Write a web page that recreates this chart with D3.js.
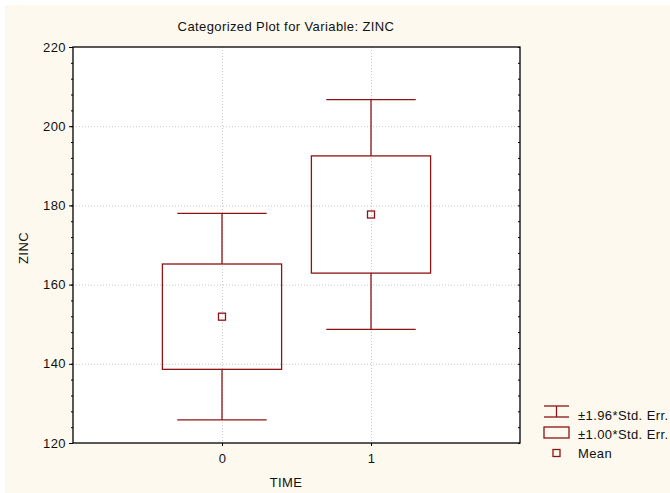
<!DOCTYPE html>
<html>
<head>
<meta charset="utf-8">
<script src="https://cdn.jsdelivr.net/npm/d3@7"></script>
<style>
  html, body { margin: 0; padding: 0; background: #ffffff; }
  svg { display: block; font-family: "Liberation Sans", Arial, sans-serif; }
  svg text { font-family: "Liberation Sans", Arial, sans-serif; font-size: 13px; letter-spacing: 0.4px; fill: #111; }
</style>
</head>
<body>
<div id="chart"></div>
<script>
// 데이터
const categories = [0, 1];
const means = [151.9, 177.7];
const stdErrs = [13.3, 14.8];
const yTicks = [120, 140, 160, 180, 200, 220];
const legendLabels = ['±1.96*Std. Err.', '±1.00*Std. Err.', 'Mean'];

const W = 670, H = 493;
const red = '#8b1414';

const svg = d3.select('#chart').append('svg')
    .attr('width', W)
    .attr('height', H);

// 배경
svg.append('rect')
    .attr('x', 5).attr('y', 5)
    .attr('width', W - 5).attr('height', H - 5)
    .attr('fill', '#fdf9ee');

const x = d3.scaleLinear().domain([-1, 2]).range([73, 520]);
const y = d3.scaleLinear().domain([120, 220]).range([443, 47]);

svg.append('rect')
    .attr('x', x(-1)).attr('y', y(220))
    .attr('width', x(2) - x(-1)).attr('height', y(120) - y(220))
    .attr('fill', '#ffffff');

// 그리드
const grid = svg.append('g').attr('stroke', '#c8c8c8').attr('stroke-dasharray', '1,2');
grid.selectAll('.hg').data(yTicks.slice(1, -1)).join('line')
    .attr('x1', x(-1)).attr('x2', x(2))
    .attr('y1', d => y(d) + 0.5).attr('y2', d => y(d) + 0.5);
grid.selectAll('.vg').data(categories).join('line')
    .attr('y1', y(220)).attr('y2', y(120))
    .attr('x1', d => x(d) + 0.5).attr('x2', d => x(d) + 0.5);

// 축
const minorTicks = d3.range(120, 221, 4);
const yAxis = svg.append('g')
    .attr('transform', `translate(${x(-1)},0)`)
    .call(d3.axisLeft(y).tickValues(yTicks).tickSize(4).tickPadding(3).tickFormat(d3.format('d')));
yAxis.select('.domain').remove();

svg.append('g').attr('transform', `translate(${x(-1)},0)`)
    .call(d3.axisLeft(y).tickValues(minorTicks).tickSize(2).tickFormat(''))
    .select('.domain').remove();
svg.append('g').attr('transform', `translate(${x(2)},0)`)
    .call(d3.axisLeft(y).tickValues(minorTicks).tickSize(2).tickFormat(''))
    .select('.domain').remove();

const xAxis = svg.append('g')
    .attr('transform', `translate(0,${y(120)})`)
    .call(d3.axisBottom(x).tickValues(categories).tickSize(3).tickPadding(8).tickFormat(d3.format('d')));
xAxis.select('.domain').remove();

// 프레임
svg.append('rect')
    .attr('x', x(-1)).attr('y', y(220))
    .attr('width', x(2) - x(-1)).attr('height', y(120) - y(220))
    .attr('fill', 'none').attr('stroke', '#000').attr('stroke-width', 1.3);

// 박스 + 수염
const boxHalf = 0.4, capHalf = 0.3;
const g = svg.append('g').attr('stroke', red).attr('fill', 'none').attr('stroke-width', 1.3);
categories.forEach((c, i) => {
    const m = means[i], se = stdErrs[i];
    g.append('line')
        .attr('x1', x(c)).attr('x2', x(c))
        .attr('y1', y(m + 1.96 * se)).attr('y2', y(m + se));
    g.append('line')
        .attr('x1', x(c)).attr('x2', x(c))
        .attr('y1', y(m - se)).attr('y2', y(m - 1.96 * se));
    [m + 1.96 * se, m - 1.96 * se].forEach(v => {
        g.append('line')
            .attr('x1', x(c - capHalf)).attr('x2', x(c + capHalf))
            .attr('y1', y(v)).attr('y2', y(v));
    });
    g.append('rect')
        .attr('x', x(c - boxHalf)).attr('y', y(m + se))
        .attr('width', x(c + boxHalf) - x(c - boxHalf))
        .attr('height', y(m - se) - y(m + se));
    g.append('rect')
        .attr('x', x(c) - 3.5).attr('y', y(m) - 3.5)
        .attr('width', 7).attr('height', 7);
});

// 제목과 축 이름
svg.append('text')
    .attr('x', 286).attr('y', 31)
    .attr('text-anchor', 'middle')
    .text('Categorized Plot for Variable: ZINC');
svg.append('text')
    .attr('x', 286).attr('y', 487)
    .attr('text-anchor', 'middle')
    .text('TIME');
svg.append('text')
    .attr('transform', 'translate(28,248) rotate(-90)')
    .attr('text-anchor', 'middle')
    .text('ZINC');

// 범례
const lg = svg.append('g');
const ls = lg.append('g').attr('stroke', red).attr('fill', 'none').attr('stroke-width', 1.3);
ls.append('line').attr('x1', 544).attr('x2', 569).attr('y1', 406).attr('y2', 406);
ls.append('line').attr('x1', 544).attr('x2', 569).attr('y1', 417).attr('y2', 417);
ls.append('line').attr('x1', 556.5).attr('x2', 556.5).attr('y1', 406).attr('y2', 417);
ls.append('rect').attr('x', 544).attr('y', 427).attr('width', 25).attr('height', 11);
ls.append('rect').attr('x', 553).attr('y', 449.5).attr('width', 7).attr('height', 7);
lg.selectAll('text').data(legendLabels).join('text')
    .attr('x', 578)
    .attr('y', (d, i) => [415, 434, 453][i] + 4.5)
    .text(d => d);
</script>
</body>
</html>
